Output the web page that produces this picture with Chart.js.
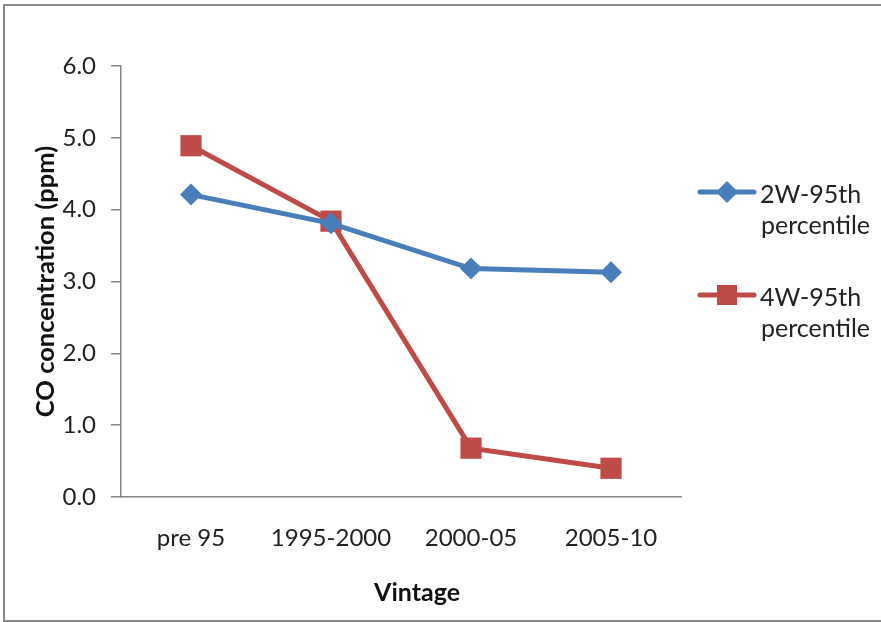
<!DOCTYPE html>
<html>
<head>
<meta charset="utf-8">
<script src="https://cdn.jsdelivr.net/npm/chart.js@4.4.1/dist/chart.umd.min.js"></script>
<style>
  body { margin: 0; background: #fff; }
  #frame { position: absolute; left: 3px; top: 4px; width: 890px; height: 614px;
           border: 2px solid #8a8a8a; border-right: none; }
  #wrap { position: absolute; left: 0; top: 0; width: 881px; height: 622px; }
</style>
</head>
<body>
<div id="frame"></div>
<div id="wrap"><canvas id="myChart" width="881" height="622"></canvas></div>
<script>
// data
var vintages = ["pre 95", "1995-2000", "2000-05", "2005-10"];
var twoWheeler = [4.21, 3.81, 3.18, 3.13];
var fourWheeler = [4.89, 3.84, 0.68, 0.40];
var seriesNames = ["2W-95th percentile", "4W-95th percentile"];
var yTicks = [0, 1, 2, 3, 4, 5, 6];
var xTitle = "Vintage";
var yTitle = "CO concentration (ppm)";

var blue = "#4a7ebb";
var red = "#be4b48";
var axisGray = "#868686";
var fontFam = "Lato, 'Liberation Sans', sans-serif";

// legend with line + marker, text on two lines, and the x title (sits a bit right of centre)
var sideLegend = {
    id: "sideLegend",
    afterDraw: function(chart){
        var ctx = chart.ctx;
        var rows = [192, 295];
        ctx.save();
        chart.data.datasets.forEach(function(ds, i){
            var y = rows[i];
            ctx.strokeStyle = ds.borderColor;
            ctx.lineWidth = 5;
            ctx.lineCap = "round";
            ctx.beginPath();
            ctx.moveTo(700, y);
            ctx.lineTo(754, y);
            ctx.stroke();
            ctx.fillStyle = ds.backgroundColor;
            ctx.beginPath();
            if(ds.pointStyle == "rectRot"){
                ctx.moveTo(727, y - 11);
                ctx.lineTo(738, y);
                ctx.lineTo(727, y + 11);
                ctx.lineTo(716, y);
            }else{
                ctx.rect(717, y - 10, 20, 20);
            }
            ctx.closePath();
            ctx.fill();
            var words = ds.label.split(" ");
            ctx.fillStyle = "#222";
            ctx.font = "25px " + fontFam;
            ctx.textBaseline = "middle";
            ctx.textAlign = "left";
            ctx.fillText(words[0], 760, y + 3);
            ctx.fillText(words[1], 761, y + 34);
        });
        ctx.fillStyle = "#111";
        ctx.font = "bold 25px " + fontFam;
        ctx.textAlign = "center";
        ctx.textBaseline = "middle";
        ctx.fillText(xTitle, 417, 593);
        ctx.restore();
    }
};

var ctx = document.getElementById("myChart").getContext("2d");
var chart = new Chart(ctx, {
    type: "line",
    data: {
        labels: vintages,
        datasets: [{
            label: seriesNames[0],
            data: twoWheeler,
            borderColor: blue,
            backgroundColor: blue,
            borderWidth: 5,
            pointStyle: "rectRot",
            pointRadius: 11,
            pointHoverRadius: 11,
            pointBorderWidth: 0
        }, {
            label: seriesNames[1],
            data: fourWheeler,
            borderColor: red,
            backgroundColor: red,
            borderWidth: 5,
            pointStyle: "rect",
            pointRadius: 15,
            pointHoverRadius: 15,
            pointBorderWidth: 0
        }]
    },
    options: {
        responsive: false,
        animation: false,
        layout: { padding: { left: 0, right: 200, top: 66, bottom: 0 } },
        plugins: {
            legend: { display: false },
            tooltip: { enabled: false }
        },
        scales: {
            x: {
                offset: true,
                grid: { display: false, drawTicks: false },
                border: { display: true, color: axisGray, width: 1.5 },
                ticks: { color: "#222", padding: 27, font: { family: fontFam, size: 24 } },
                title: { display: false },
                afterFit: function(s){ s.height = 125; }
            },
            y: {
                min: 0,
                max: 6,
                afterBuildTicks: function(s){
                    s.ticks = yTicks.map(function(v){ return { value: v }; });
                },
                grid: { drawOnChartArea: false, drawTicks: true, tickLength: 10, color: axisGray, lineWidth: 1.5 },
                border: { display: true, color: axisGray, width: 1.5 },
                ticks: { color: "#222", padding: 15,
                         font: { family: fontFam, size: 24 },
                         callback: function(v){ return v.toFixed(1); } },
                title: { display: true, text: yTitle, color: "#111",
                         font: { family: fontFam, size: 25.5, weight: "bold" },
                         padding: { top: 30, bottom: 0 } },
                afterFit: function(s){ s.width = 121; }
            }
        }
    },
    plugins: [sideLegend]
});
</script>
</body>
</html>
